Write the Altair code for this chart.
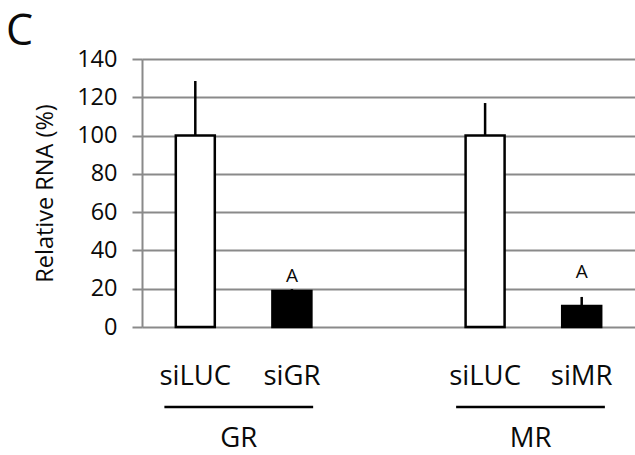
import altair as alt
import pandas as pd

# ---- data ----
slots = [1, 2, 4, 5]                       # category slot (slot 3 is the empty gap)
labels = ["siLUC", "siGR", "siLUC", "siMR"]
values = [100, 18.8, 100, 11.0]
errors = [28.5, 1.0, 17.0, 4.7]
fills = ["white", "black", "white", "black"]

groups = ["GR", "MR"]
group_start = [0.68, 3.70]
group_end = [2.22, 5.24]

sig_slots = [2, 5]
sig_text = ["A", "A"]
sig_at = [23.5, 25.6]

y_ticks = [0, 20, 40, 60, 80, 100, 120, 140]

FONT = "Open Sans"
TXT = "#0a0a0a"
GRID = "#8a8a8a"

bars_df = pd.DataFrame({
    "slot": slots, "label": labels, "value": values,
    "top": [v + e for v, e in zip(values, errors)], "fill": fills,
})
grp_df = pd.DataFrame({
    "group": groups, "start": group_start, "end": group_end,
    "mid": [(a + b) / 2 for a, b in zip(group_start, group_end)],
})
sig_df = pd.DataFrame({"slot": sig_slots, "text": sig_text, "at": sig_at})
panel_df = pd.DataFrame({"t": ["C"]})

xs = alt.Scale(domain=[0.5, 5.5], nice=False, zero=False)
ys = alt.Scale(domain=[0, 140], nice=False)

base = alt.Chart(bars_df)

bars = base.mark_bar(size=39, stroke="black", strokeWidth=2.5).encode(
    x=alt.X("slot:Q", scale=xs, axis=None),
    y=alt.Y(
        "value:Q", scale=ys,
        axis=alt.Axis(
            values=y_ticks, labelOverlap=False, title="Relative RNA (%)",
            grid=True, gridColor=GRID, gridWidth=2, gridOpacity=1,
            domainColor=GRID, domainWidth=2,
            tickColor=GRID, tickWidth=2, tickSize=10,
            labelFont=FONT, labelFontSize=23.5, labelColor=TXT, labelPadding=15,
            titleFont=FONT, titleFontSize=23.5, titleFontWeight="normal",
            titleColor=TXT, titleAngle=-90, titleX=-97, titleY=134,
            titleAlign="center", titleBaseline="middle",
        ),
    ),
    fill=alt.Fill("fill:N", scale=None),
)

err = base.mark_rule(color="black", strokeWidth=2.5).encode(
    x=alt.X("slot:Q", scale=xs, axis=None),
    y=alt.Y("value:Q", scale=ys, axis=None),
    y2="top:Q",
)

cat_labels = base.mark_text(
    font=FONT, fontSize=27.5, color=TXT, baseline="alphabetic", align="center"
).encode(
    x=alt.X("slot:Q", scale=xs, axis=None),
    y=alt.value(326),
    text="label:N",
)

sig = alt.Chart(sig_df).mark_text(
    font=FONT, fontSize=19, color=TXT, baseline="alphabetic", align="center"
).encode(
    x=alt.X("slot:Q", scale=xs, axis=None),
    y=alt.Y("at:Q", scale=ys, axis=None),
    text="text:N",
)

grp_lines = alt.Chart(grp_df).mark_rule(color="black", strokeWidth=2.5).encode(
    x=alt.X("start:Q", scale=xs, axis=None),
    x2="end:Q",
    y=alt.value(348),
)

grp_labels = alt.Chart(grp_df).mark_text(
    font=FONT, fontSize=27.5, color=TXT, baseline="alphabetic", align="center"
).encode(
    x=alt.X("mid:Q", scale=xs, axis=None),
    y=alt.value(388),
    text="group:N",
)

panel = alt.Chart(panel_df).mark_text(
    font=FONT, fontSize=43, color=TXT, baseline="alphabetic", align="left"
).encode(
    x=alt.value(-136),
    y=alt.value(-14),
    text="t:N",
)

chart = alt.layer(
    bars, err, sig, cat_labels, grp_lines, grp_labels, panel
).resolve_axis(
    x="independent", y="independent"
).properties(
    width=493, height=268,
    autosize=alt.AutoSizeParams(type="none"),
    padding={"left": 142, "top": 59, "right": 0, "bottom": 128},
).configure_view(strokeWidth=0).configure(background="white")

chart.save("out.html", embed_options={"renderer": "svg", "actions": False})
